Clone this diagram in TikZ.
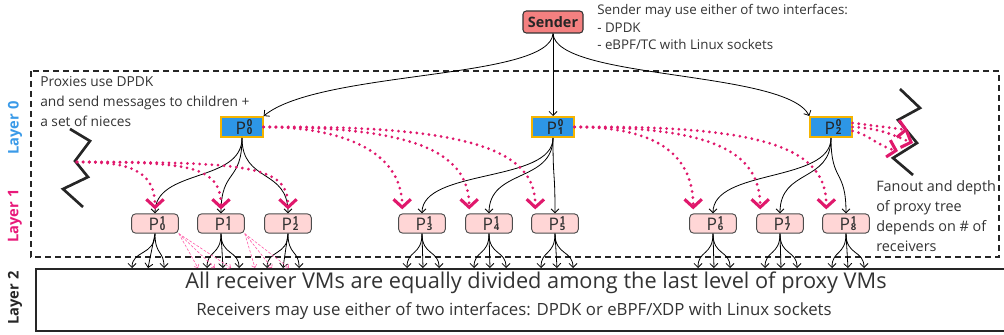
\documentclass[tikz,border=0pt]{standalone}
\usepackage{fontspec}
\setmainfont{Open Sans}
\usetikzlibrary{arrows.meta}
\definecolor{sendred}{HTML}{F48080}
\definecolor{lblue}{HTML}{2D96E6}
\definecolor{gold}{HTML}{F5B400}
\definecolor{lpink}{HTML}{FFD6D6}
\definecolor{mag}{HTML}{E0186C}
\definecolor{hpink}{HTML}{FF5CA8}
\definecolor{txt}{HTML}{333333}
\definecolor{l0col}{HTML}{3A9AE8}
\definecolor{l1col}{HTML}{E8197A}
\newcommand\fs[2]{\fontsize{#1}{#2}\selectfont}
\newcommand\PP[2]{P\kern0.5pt\vbox{\fs{7.2}{5.8}\bfseries\lineskiplimit=-10pt\hbox{#1}\hbox{#2}}}
\begin{document}
\begin{tikzpicture}[x=0.75pt,y=-0.75pt,
  sendbox/.style={draw=black!80, fill=sendred, rounded corners=2.5pt, line width=0.8pt, minimum width=45pt, minimum height=16.5pt, inner sep=0pt, font=\bfseries\fs{10.8}{12}, text=black!85},
  zerobox/.style={draw=gold, line width=1.5pt, fill=lblue, minimum width=31pt, minimum height=15pt, inner sep=0pt, font=\fs{13}{14}, text=black!85},
  onebox/.style={draw=black!70, fill=lpink, rounded corners=3pt, line width=0.7pt, minimum width=35pt, minimum height=14.5pt, inner sep=0pt, font=\fs{13}{14}, text=black!80},
  note/.style={align=left, inner sep=0pt, text=txt, anchor=north west},
  blk/.style={draw=black, line width=0.6pt, -{Straight Barb[length=3pt,width=6pt]}},
  big/.style={draw=mag, line width=2.3pt, line cap=round, dash pattern=on 0pt off 4.6pt, -{Straight Barb[length=6pt,width=13pt]}},
  thinpk/.style={draw=hpink, line width=0.45pt, dash pattern=on 2pt off 1.2pt, -{Straight Barb[length=2pt,width=4pt]}},
  zig/.style={draw=black!85, line width=2pt},
  lay/.style={rotate=90, font=\bfseries\fs{11}{12}}
]
\useasboundingbox (0,0) rectangle (1004,335);
% frames
\draw[black!85, line width=1.2pt, dash pattern=on 4.5pt off 3pt] (31,71) rectangle (999,257);
\draw[black!85, line width=1.2pt] (1010,269) -- (36,269) -- (36,331) -- (1010,331);
% layer labels
\node[lay, text=l0col] (L0) at (15,128) {Layer 0};
\node[lay, text=l1col] (L1) at (15,216) {Layer 1};
\node[lay, text=black!85] (L2) at (15,298) {Layer 2};
% texts
\node[note, font=\fs{10}{13.2}] (sn) at (597,4) {Sender may use either of two interfaces:\\- DPDK\\- eBPF/TC with Linux sockets};
\node[note, font=\fs{10.3}{15}] (pn) at (40,76) {Proxies use DPDK\\and send messages to children +\\a set of nieces};
\node[note, font=\fs{10.8}{15}] (fn) at (876,180) {Fanout and depth\\of proxy tree\\depends on \# of\\receivers};
\node[font=\fs{16.3}{18}, text=txt] (t1) at (536,283) {All receiver VMs are equally divided among the last level of proxy VMs};
\node[font=\fs{12.6}{14}, text=txt] (t2) at (514,311) {Receivers may use either of two interfaces: DPDK or eBPF/XDP with Linux sockets};
% zigzags
\draw[zig] (70,129) -- (90,141) -- (75,161) -- (88,177) -- (63,189) -- (83,207);
\draw[zig] (900,89) -- (920,108) -- (898,120) -- (917,143) -- (893,158) -- (913,175);
% nodes
\node[sendbox] (s) at (553,22) {Sender};
\node[zerobox] (r0) at (242,127) {\kern3pt\PP00};
\node[zerobox] (r1) at (553,127) {\kern3pt\PP01};
\node[zerobox] (r2) at (831,127) {\kern3pt\PP02};
\foreach \i/\x in {0/155,1/221,2/288,3/422,4/489,5/555,6/713,7/780,8/846}
  \node[onebox] (q\i) at (\x,223.5) {\kern3pt\PP1\i};
% sender edges
\draw[blk] (s.south) .. controls (550,80) and (320,70) .. (r0.north east);
\draw[blk] (s.south) -- (r1.north);
\draw[blk] (s.south) .. controls (556,80) and (786,70) .. (r2.north west);
% layer 0 -> layer 1
\foreach \p/\c in {r0/q0, r0/q1, r0/q2, r1/q3, r1/q4, r1/q5, r2/q6, r2/q7, r2/q8}
  \draw[blk] (\p.south) .. controls +(0,45) and +(0,-45) .. (\c.north);
% layer 1 -> layer 2 fans
\foreach \i/\c in {0/148,1/223,2/283,3/423,4/490,5/557,6/714,7/781,8/848} {
  \coordinate (fa\i) at (\c-16,268);
  \coordinate (fb\i) at (\c,268);
  \coordinate (fc\i) at (\c+16,268);
  \draw[blk] (q\i.south) .. controls +(0,22) and +(0,-18) .. (fa\i);
  \draw[blk] (q\i.south) -- (fb\i);
  \draw[blk] (q\i.south) .. controls +(0,22) and +(0,-18) .. (fc\i);
}
% thin pink niece arrows
\coordinate (n0a) at (198,268); \coordinate (n0b) at (215,268); \coordinate (n0c) at (231,268);
\coordinate (n1a) at (255,268); \coordinate (n1b) at (272,268); \coordinate (n1c) at (289,268);
\foreach \t in {n0a,n0b,n0c} \draw[thinpk] (q0.south east) -- (\t);
\foreach \t in {n1a,n1b,n1c} \draw[thinpk] (q1.south east) -- (\t);
% thick dotted niece arrows
\coordinate (lz) at (77,162);
\coordinate (rz1) at (908,130);
\coordinate (rz2) at (913,143);
\coordinate (rz3) at (898,151);
\draw[big] (lz) .. controls (125,162) and (155,168) .. ([yshift=3pt]q0.north);
\draw[big] (lz) .. controls (190,162) and (221,166) .. ([yshift=3pt]q1.north);
\draw[big] (lz) .. controls (250,162) and (288,166) .. ([yshift=3pt]q2.north);
\draw[big] (r0.east) .. controls (340,127) and (402,150) .. ([xshift=3pt,yshift=3pt]q3.north west);
\draw[big] (r0.east) .. controls (410,127) and (469,150) .. ([xshift=3pt,yshift=3pt]q4.north west);
\draw[big] (r0.east) .. controls (470,125) and (536,150) .. ([xshift=3pt,yshift=3pt]q5.north west);
\draw[big] (r1.east) .. controls (650,127) and (693,150) .. ([xshift=3pt,yshift=3pt]q6.north west);
\draw[big] (r1.east) .. controls (710,127) and (760,150) .. ([xshift=3pt,yshift=3pt]q7.north west);
\draw[big] (r1.east) .. controls (770,125) and (827,150) .. ([xshift=3pt,yshift=3pt]q8.north west);
\draw[big] ([yshift=3pt]r2.east) -- (rz1);
\draw[big] (r2.east) .. controls (880,128) and (895,136) .. (rz2);
\draw[big] ([yshift=-3pt]r2.east) .. controls (868,134) and (878,146) .. (rz3);
\end{tikzpicture}
\end{document}
